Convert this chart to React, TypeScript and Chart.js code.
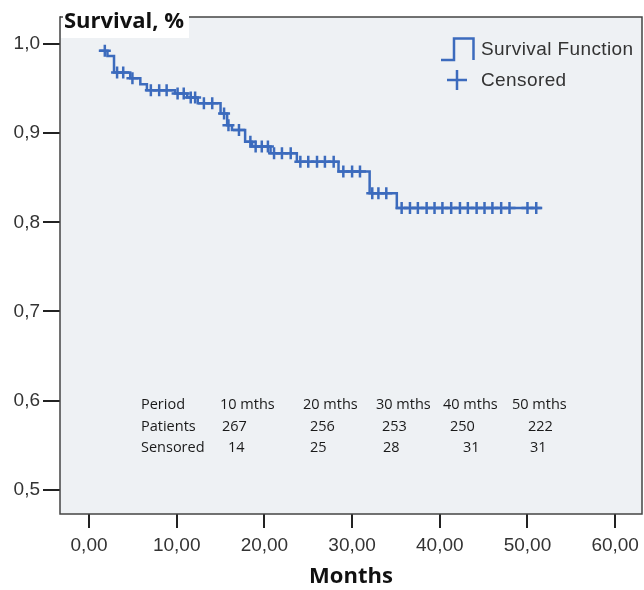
import React, { useEffect, useRef } from "react";
import { Chart, registerables } from "chart.js";

Chart.register(...registerables);

// ---- data ----
const xTickValues = [0, 10, 20, 30, 40, 50, 60];
const yTickValues = [0.5, 0.6, 0.7, 0.8, 0.9, 1.0];

const stepMonths = [1.2, 2.1, 2.85, 4.7, 5.85, 6.6, 9.8, 11.2, 12.4, 15.0, 15.75, 16.3, 17.8, 18.6, 20.7, 23.7, 28.45, 32.0, 35.1, 51.6];
const stepSurvival = [0.9925, 0.9865, 0.968, 0.9615, 0.955, 0.948, 0.9445, 0.94, 0.9335, 0.922, 0.909, 0.9036, 0.8905, 0.885, 0.8775, 0.868, 0.857, 0.8326, 0.816, 0.816];
const censoredMonths = [1.8, 3.2, 3.9, 4.95, 7.05, 8.0, 8.85, 10.1, 10.8, 11.6, 12.1, 13.1, 14.05, 15.4, 15.9, 17.1, 18.4, 19.0, 19.7, 20.4, 21.1, 22.0, 23.0, 24.1, 25.0, 26.0, 26.9, 27.9, 29.0, 30.0, 30.9, 32.3, 33.0, 33.9, 35.65, 36.6, 37.5, 38.5, 39.4, 40.3, 41.3, 42.3, 43.2, 44.2, 45.1, 46.0, 47.0, 47.95, 50.0, 51.0];

const tableRowLabels = ["Period", "Patients", "Sensored"];
const tablePeriods = ["10 mths", "20 mths", "30 mths", "40 mths", "50 mths"];
const tablePatients = ["267", "256", "253", "250", "222"];
const tableSensored = ["14", "25", "28", "31", "31"];

const yTitle = "Survival, %";
const xTitle = "Months";
const legendLabels = ["Survival Function", "Censored"];

// ---- layout / style ----
const LINE_COLOR = "#3c6bbd";
const PLOT_BG = "#eef1f4";
const TICK_FONT = "Liberation Sans";
const TEXT_FONT = "Open Sans";
const tableRowY = [405, 426.5, 448];
const tableRowLabelX = 141;
const tableColX = [
  [220, 303, 376, 443, 512],
  [222, 310, 382, 450, 528],
  [228, 310, 383, 463, 530],
];

function survivalAt(t: number): number {
  let s = stepSurvival[0];
  for (let i = 0; i < stepMonths.length; i++) {
    if (stepMonths[i] <= t) s = stepSurvival[i];
  }
  return s;
}

const decorPlugin = {
  id: "kmDecor",
  beforeDraw(chart: any) {
    const { ctx, chartArea: a } = chart;
    ctx.save();
    ctx.fillStyle = PLOT_BG;
    ctx.fillRect(a.left, a.top, a.right - a.left, a.bottom - a.top);
    ctx.restore();
  },
  beforeDatasetsDraw(chart: any) {
    const { ctx } = chart;
    ctx.save();
    ctx.fillStyle = "#1a1a1a";
    ctx.font = `14.5px "${TEXT_FONT}"`;
    ctx.textBaseline = "middle";
    ctx.textAlign = "left";
    const rows = [tablePeriods, tablePatients, tableSensored];
    for (let r = 0; r < 3; r++) {
      ctx.fillText(tableRowLabels[r], tableRowLabelX, tableRowY[r]);
      rows[r].forEach((txt, c) => ctx.fillText(txt, tableColX[r][c], tableRowY[r]));
    }
    ctx.restore();
  },
  afterDraw(chart: any) {
    const { ctx, chartArea: a } = chart;
    ctx.save();
    // box border
    ctx.strokeStyle = "#444";
    ctx.lineWidth = 1.5;
    ctx.strokeRect(a.left, a.top, a.right - a.left, a.bottom - a.top);
    // y title white box
    ctx.fillStyle = "#ffffff";
    ctx.fillRect(a.left + 1, 0, 128, 38);
    ctx.beginPath();
    ctx.moveTo(a.left, a.top);
    ctx.lineTo(a.left + 3, a.top);
    ctx.stroke();
    ctx.fillStyle = "#111";
    ctx.font = `bold 22px "${TEXT_FONT}"`;
    ctx.textBaseline = "middle";
    ctx.textAlign = "left";
    ctx.fillText(yTitle, a.left + 4, 22);

    // legend
    ctx.strokeStyle = LINE_COLOR;
    ctx.lineWidth = 2.5;
    ctx.beginPath();
    ctx.moveTo(441, 60);
    ctx.lineTo(454, 60);
    ctx.lineTo(454, 38.5);
    ctx.lineTo(473.5, 38.5);
    ctx.lineTo(473.5, 60);
    ctx.stroke();
    ctx.beginPath();
    ctx.moveTo(447, 80);
    ctx.lineTo(467, 80);
    ctx.moveTo(457, 70);
    ctx.lineTo(457, 90);
    ctx.stroke();
    ctx.fillStyle = "#333";
    ctx.font = `19px "${TICK_FONT}"`;
    try { (ctx as any).letterSpacing = "0.4px"; } catch (e) {}
    ctx.fillText(legendLabels[0], 481, 50);
    ctx.fillText(legendLabels[1], 481, 81);
    ctx.restore();
  },
};

export default function App() {
  const ref = useRef<HTMLCanvasElement>(null);
  useEffect(() => {
    document.body.style.margin = "0";
    const stepData = stepMonths.map((m, i) => ({ x: m, y: stepSurvival[i] }));
    const censorData = censoredMonths.map((m) => ({ x: m, y: survivalAt(m) }));
    const chart = new Chart(ref.current!, {
      type: "scatter",
      data: {
        datasets: [
          {
            label: legendLabels[1],
            data: censorData,
            showLine: false,
            pointStyle: "cross",
            pointRadius: 6,
            borderColor: LINE_COLOR,
            backgroundColor: LINE_COLOR,
            borderWidth: 2.5,
            order: 0,
          },
          {
            label: legendLabels[0],
            data: stepData,
            showLine: true,
            stepped: true,
            pointRadius: 0,
            borderColor: LINE_COLOR,
            borderWidth: 2.5,
            fill: false,
            order: 1,
          },
        ],
      } as any,
      options: {
        animation: false,
        responsive: false,
        events: [],
        layout: { autoPadding: false, padding: { top: 17, right: 2, left: 0, bottom: 0 } },
        plugins: { legend: { display: false }, tooltip: { enabled: false } },
        scales: {
          x: {
            type: "linear",
            min: -3.31,
            max: 63.06,
            afterBuildTicks: (s: any) => {
              s.ticks = xTickValues.map((v) => ({ value: v }));
            },
            afterFit: (s: any) => {
              s.height = 76;
              s.paddingLeft = 0;
              s.paddingRight = 0;
            },
            border: { display: false },
            grid: { drawOnChartArea: false, drawTicks: true, tickLength: 14, color: "#222", lineWidth: 2 },
            ticks: {
              padding: 6,
              color: "#333",
              font: { family: TICK_FONT, size: 19 },
              maxRotation: 0,
              autoSkip: false,
              callback: (v: any) => Number(v).toFixed(2).replace(".", ","),
            },
            title: {
              display: true,
              text: xTitle,
              color: "#111",
              font: { family: TEXT_FONT, size: 22, weight: "bold" },
              padding: { top: 0, bottom: 0 },
            },
          },
          y: {
            type: "linear",
            min: 0.4728,
            max: 1.0303,
            afterBuildTicks: (s: any) => {
              s.ticks = yTickValues.map((v) => ({ value: v }));
            },
            afterFit: (s: any) => {
              s.width = 60;
              s.paddingTop = 0;
              s.paddingBottom = 0;
            },
            border: { display: false },
            grid: { drawOnChartArea: false, drawTicks: true, tickLength: 17, color: "#222", lineWidth: 2 },
            ticks: {
              padding: 3,
              color: "#333",
              font: { family: TICK_FONT, size: 19 },
              autoSkip: false,
              callback: (v: any) => Number(v).toFixed(1).replace(".", ","),
            },
          },
        },
      } as any,
      plugins: [decorPlugin],
    });
    return () => chart.destroy();
  }, []);
  return (
    <div style={{ width: 644, height: 590 }}>
      <canvas ref={ref} width={644} height={590} style={{ display: "block" }} />
    </div>
  );
}
